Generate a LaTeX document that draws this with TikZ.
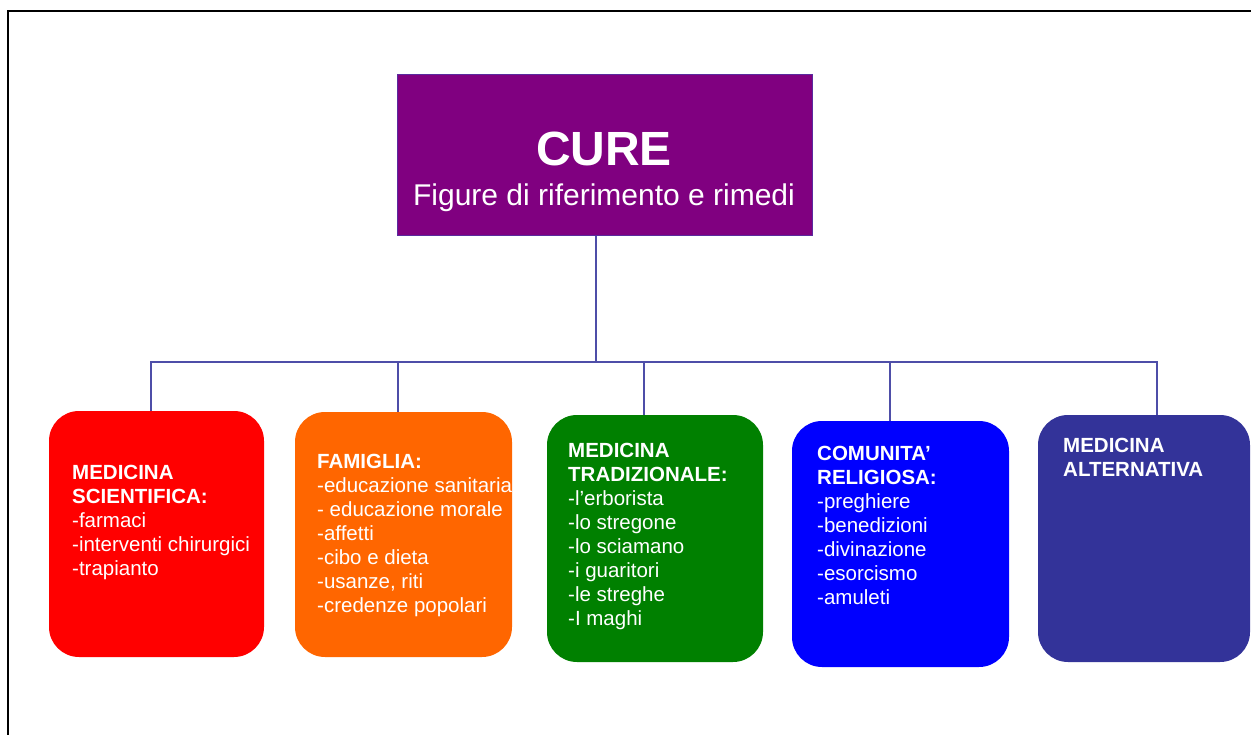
\documentclass[tikz,border=0pt]{standalone}
\usepackage{fontspec}
\setmainfont{Liberation Sans}
\definecolor{cureviolet}{HTML}{800080}
\definecolor{cureedge}{HTML}{5A2A9E}
\definecolor{redbox}{HTML}{FF0000}
\definecolor{orangebox}{HTML}{FF6600}
\definecolor{greenbox}{HTML}{008000}
\definecolor{bluebox}{HTML}{0000FF}
\definecolor{navybox}{HTML}{333399}
\definecolor{linkline}{HTML}{4E4EA8}
\begin{document}
\begin{tikzpicture}[x=1pt,y=-1pt,
  card/.style={draw=none, rounded corners=30pt, minimum width=#1, inner sep=0pt},
  itemtext/.style={text=white, anchor=north west, align=left, inner sep=0pt,
    font=\fontsize{20.5}{24}\selectfont},
  link/.style={draw=linkline, line width=2pt}]
\useasboundingbox (0,0) rectangle (1251,734);
% frame along the top and left edges
\draw[line width=2pt, line cap=rect] (8,734) -- (8,11) -- (1251,11);

% title box
\node[fill=cureviolet, draw=cureedge, line width=1pt, minimum width=415pt,
  minimum height=161pt, inner sep=0pt] (top) at (605,154.5) {};
\node[text=white, inner sep=0pt, anchor=base, font=\fontsize{48}{48}\selectfont\bfseries]
  (title) at (604,165) {CURE};
\node[text=white, inner sep=0pt, anchor=base, font=\fontsize{30}{30}\selectfont]
  (subtitle) at (604,205) {Figure di riferimento e rimedi};

% category boxes
\node[card=215pt, fill=redbox,    minimum height=246pt] (b1) at (156.5,534) {};
\node[card=217pt, fill=orangebox, minimum height=245pt] (b2) at (403.5,534.5) {};
\node[card=216pt, fill=greenbox,  minimum height=247pt] (b3) at (655,538.5) {};
\node[card=217pt, fill=bluebox,   minimum height=246pt] (b4) at (900.5,544) {};
\node[card=212pt, fill=navybox,   minimum height=247pt] (b5) at (1144,538.5) {};

% connector junctions
\coordinate (hub) at (596,362);
\coordinate (j1) at (151,362);
\coordinate (j2) at (398,362);
\coordinate (j3) at (644,362);
\coordinate (j4) at (890,362);
\coordinate (j5) at (1157,362);

\draw[link] (hub |- top.south) -- (hub);
\draw[link, line cap=rect] (j1) -- (j5);
\draw[link] (j1) -- (j1 |- b1.north);
\draw[link] (j2) -- (j2 |- b2.north);
\draw[link] (j3) -- (j3 |- b3.north);
\draw[link] (j4) -- (j4 |- b4.north);
\draw[link] (j5) -- (j5 |- b5.north);

% box contents (top edge = first baseline minus cap height)
\node[itemtext] (t1) at (72,465) {\textbf{MEDICINA}\\\textbf{SCIENTIFICA:}\\-farmaci\\-interventi chirurgici\\-trapianto};
\node[itemtext] (t2) at (317,454) {\textbf{FAMIGLIA:}\\-educazione sanitaria\\- educazione morale\\-affetti\\-cibo e dieta\\-usanze, riti\\-credenze popolari};
\node[itemtext] (t3) at (568,443) {\textbf{MEDICINA}\\\textbf{TRADIZIONALE:}\\-l{\char"27}erborista\\-lo stregone\\-lo sciamano\\-i guaritori\\-le streghe\\-I maghi};
\node[itemtext] (t4) at (817,446) {\textbf{COMUNITA’}\\\textbf{RELIGIOSA:}\\-preghiere\\-benedizioni\\-divinazione\\-esorcismo\\-amuleti};
\node[itemtext] (t5) at (1063,438) {\textbf{MEDICINA}\\\textbf{ALTERNATIVA}};
\end{tikzpicture}
\end{document}
